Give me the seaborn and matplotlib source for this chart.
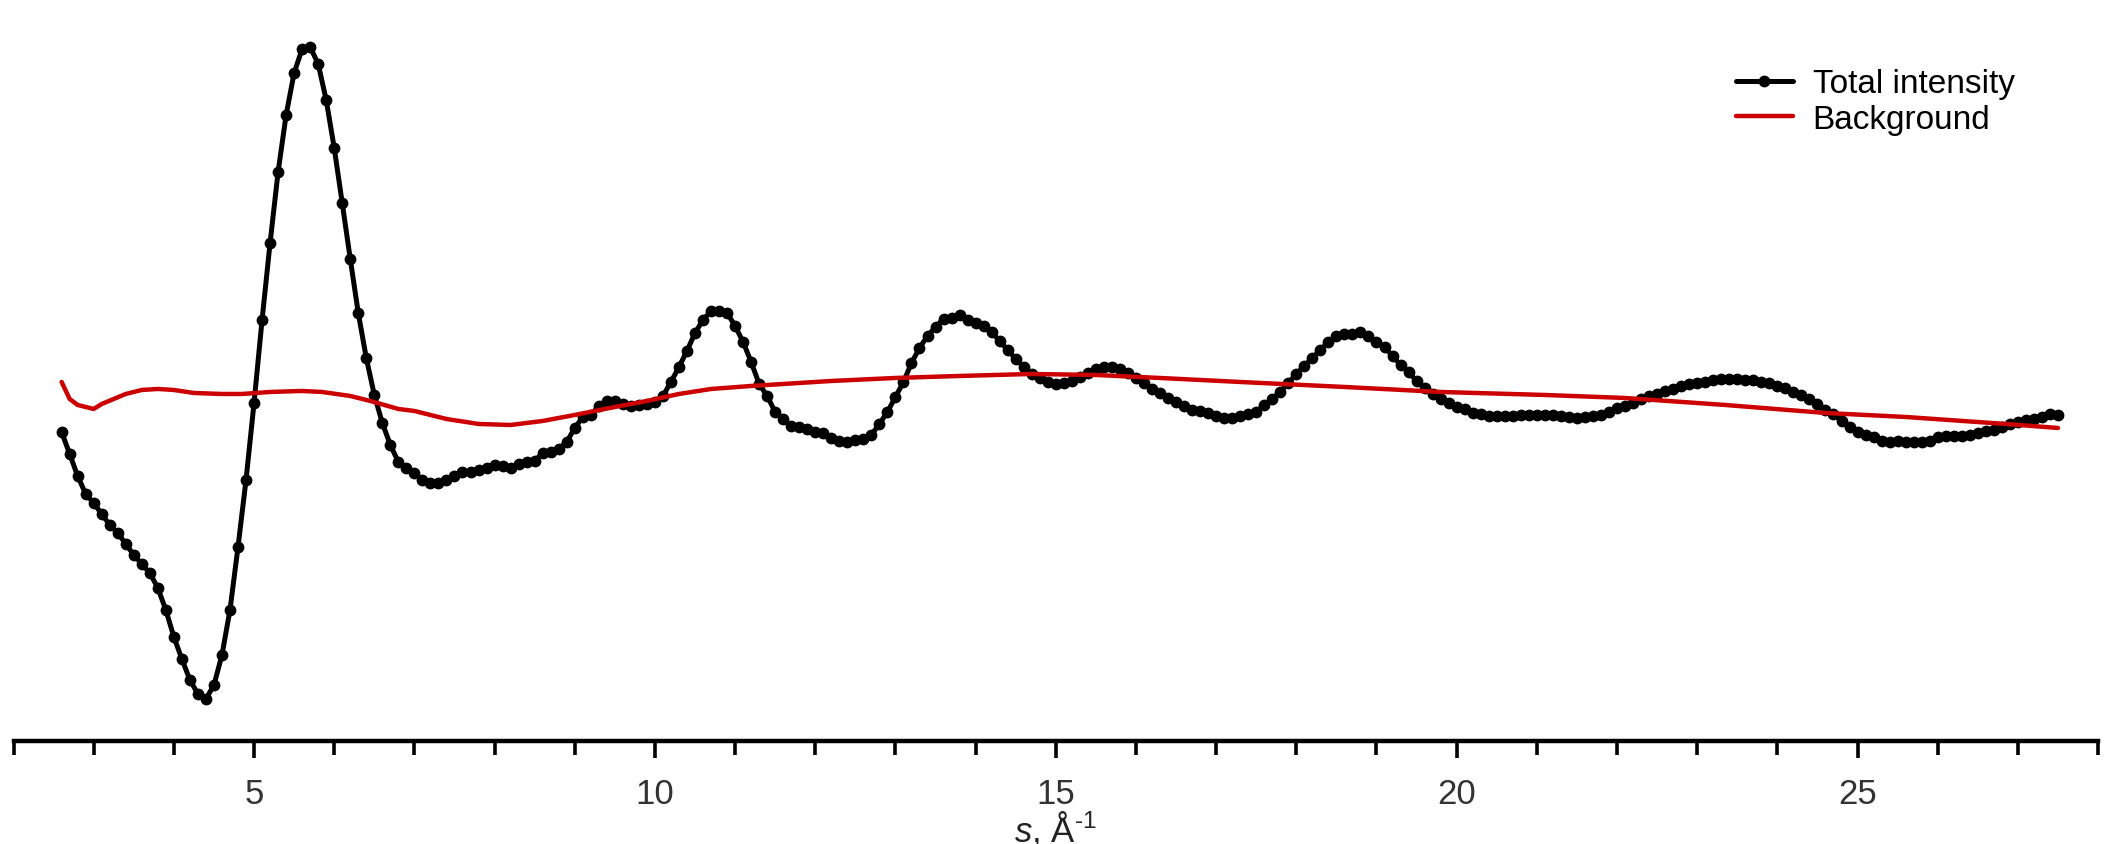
import numpy as np
import pandas as pd
import matplotlib
matplotlib.use("Agg")
import matplotlib.pyplot as plt
import seaborn as sns
from matplotlib.ticker import MultipleLocator

# ---------------- data ----------------
# scattering vector s (Å^-1), sampled every 0.1 from 2.6 to 27.5
s_total = np.round(np.arange(26, 276) / 10.0, 1)

total_intensity = [
    3.09, 2.87, 2.65, 2.47, 2.38, 2.27, 2.16, 2.08, 1.97, 1.86,   # 2.6-3.5
    1.77, 1.68, 1.53, 1.31, 1.04, 0.82, 0.61, 0.47, 0.42, 0.56,   # 3.6-4.5
    0.86, 1.31, 1.94, 2.61, 3.38, 4.21, 4.98, 5.69, 6.26, 6.68,   # 4.6-5.5
    6.92, 6.94, 6.77, 6.41, 5.93, 5.38, 4.82, 4.28, 3.83, 3.46,   # 5.6-6.5
    3.18, 2.96, 2.79, 2.73, 2.68, 2.61, 2.58, 2.58, 2.61, 2.65,   # 6.6-7.5
    2.69, 2.69, 2.71, 2.73, 2.76, 2.75, 2.73, 2.77, 2.79, 2.80,   # 7.6-8.5
    2.88, 2.89, 2.92, 2.99, 3.13, 3.24, 3.26, 3.35, 3.40, 3.40,   # 8.6-9.5
    3.37, 3.35, 3.36, 3.37, 3.39, 3.45, 3.59, 3.74, 3.90, 4.08,   # 9.6-10.5
    4.21, 4.30, 4.30, 4.28, 4.15, 3.99, 3.79, 3.57, 3.45, 3.29,   # 10.6-11.5
    3.22, 3.15, 3.14, 3.12, 3.09, 3.08, 3.03, 3.00, 2.99, 3.01,   # 11.6-12.5
    3.02, 3.06, 3.17, 3.29, 3.44, 3.59, 3.78, 3.93, 4.05, 4.14,   # 12.6-13.5
    4.22, 4.23, 4.26, 4.21, 4.18, 4.15, 4.09, 4.00, 3.91, 3.82,   # 13.6-14.5
    3.74, 3.67, 3.63, 3.59, 3.57, 3.58, 3.60, 3.64, 3.68, 3.72,   # 14.6-15.5
    3.74, 3.74, 3.72, 3.68, 3.63, 3.58, 3.52, 3.48, 3.43, 3.39,   # 15.6-16.5
    3.35, 3.31, 3.30, 3.28, 3.25, 3.23, 3.23, 3.25, 3.27, 3.29,   # 16.6-17.5
    3.36, 3.42, 3.49, 3.58, 3.67, 3.75, 3.83, 3.91, 3.99, 4.05,   # 17.6-18.5
    4.07, 4.07, 4.09, 4.05, 3.99, 3.94, 3.85, 3.76, 3.69, 3.60,   # 18.6-19.5
    3.53, 3.47, 3.42, 3.38, 3.34, 3.32, 3.28, 3.27, 3.25, 3.25,   # 19.6-20.5
    3.25, 3.25, 3.26, 3.26, 3.26, 3.26, 3.26, 3.25, 3.24, 3.23,   # 20.6-21.5
    3.24, 3.25, 3.26, 3.29, 3.33, 3.35, 3.38, 3.42, 3.45, 3.47,   # 21.6-22.5
    3.50, 3.52, 3.55, 3.57, 3.58, 3.59, 3.61, 3.62, 3.62, 3.62,   # 22.6-23.5
    3.61, 3.61, 3.59, 3.58, 3.55, 3.53, 3.49, 3.46, 3.42, 3.37,   # 23.6-24.5
    3.31, 3.27, 3.20, 3.14, 3.09, 3.06, 3.04, 3.00, 2.99, 3.00,   # 24.6-25.5
    2.99, 2.99, 2.99, 3.00, 3.04, 3.05, 3.05, 3.05, 3.06, 3.08,   # 25.6-26.5
    3.10, 3.11, 3.14, 3.17, 3.19, 3.21, 3.22, 3.24, 3.27, 3.26,   # 26.6-27.5
]

s_background = [2.6, 2.7, 2.8, 3.0, 3.1, 3.25, 3.4, 3.6, 3.8, 4.0, 4.25, 4.6,
                4.85, 5.2, 5.6, 5.85, 6.2, 6.45, 6.8, 7.0, 7.4, 7.8, 8.2, 8.6,
                9.0, 9.5, 9.9, 10.3, 10.7, 11.2, 11.6, 12.2, 13.0, 13.8, 14.7,
                15.5, 16.3, 17.3, 18.6, 19.8, 21.1, 22.1, 23.35, 24.6, 25.6,
                26.85, 27.5]
background = [3.59, 3.42, 3.36, 3.32, 3.37, 3.42, 3.47, 3.51, 3.52, 3.51, 3.48,
              3.47, 3.47, 3.49, 3.50, 3.49, 3.45, 3.40, 3.32, 3.30, 3.22, 3.17,
              3.16, 3.20, 3.26, 3.34, 3.40, 3.47, 3.52, 3.55, 3.57, 3.60, 3.63,
              3.65, 3.67, 3.66, 3.63, 3.59, 3.54, 3.49, 3.46, 3.43, 3.36, 3.28,
              3.24, 3.17, 3.13]

x_major_ticks = [5, 10, 15, 20, 25]

df_total = pd.DataFrame({"s": s_total, "I": total_intensity})
df_bg = pd.DataFrame({"s": s_background, "I": background})

# ---------------- style ----------------
sns.set_theme(style="ticks")
plt.rcParams["font.family"] = ["Liberation Sans", "DejaVu Sans"]
plt.rcParams["mathtext.fontset"] = "custom"
plt.rcParams["mathtext.rm"] = "Liberation Sans"
plt.rcParams["mathtext.it"] = "Liberation Sans:italic"

fig = plt.figure(figsize=(21.12, 8.45), dpi=100, facecolor="white")
ax = fig.add_axes([0.0064, 0.1219, 0.9870, 0.8545])
ax.set_facecolor("white")

sns.lineplot(data=df_total, x="s", y="I", ax=ax, color="black", linewidth=3.6,
             marker="o", markersize=8.5, markeredgewidth=0, label="Total intensity",
             sort=False, estimator=None)
sns.lineplot(data=df_bg, x="s", y="I", ax=ax, color="#cc0000", linewidth=3.2,
             label="Background", sort=False, estimator=None)

ax.set_xlim(2, 28)
ax.set_ylim(0, 7.22)

ax.xaxis.set_major_locator(plt.FixedLocator(x_major_ticks))
ax.xaxis.set_minor_locator(MultipleLocator(1))
ax.tick_params(axis="x", which="major", length=12, width=2.6, direction="out",
               labelsize=25, labelcolor="#333333", color="black", pad=14)
ax.tick_params(axis="x", which="minor", length=10, width=2.6, direction="out",
               color="black")
ax.set_yticks([])
ax.set_ylabel("")
for side in ("left", "top", "right"):
    ax.spines[side].set_visible(False)
ax.spines["bottom"].set_linewidth(3.2)
ax.spines["bottom"].set_color("black")

ax.set_xlabel("$s$, Å$^{\u20101}$", fontsize=25, color="#222222", labelpad=-1)

leg = ax.legend(loc="upper left", bbox_to_anchor=(0.822, 0.918),
                bbox_transform=fig.transFigure, frameon=False, fontsize=24,
                handlelength=1.7, handletextpad=0.6, labelspacing=0.14,
                borderpad=0, borderaxespad=0)
for txt in leg.get_texts():
    txt.set_color("black")

fig.savefig("out.png", dpi=100, facecolor="white")
